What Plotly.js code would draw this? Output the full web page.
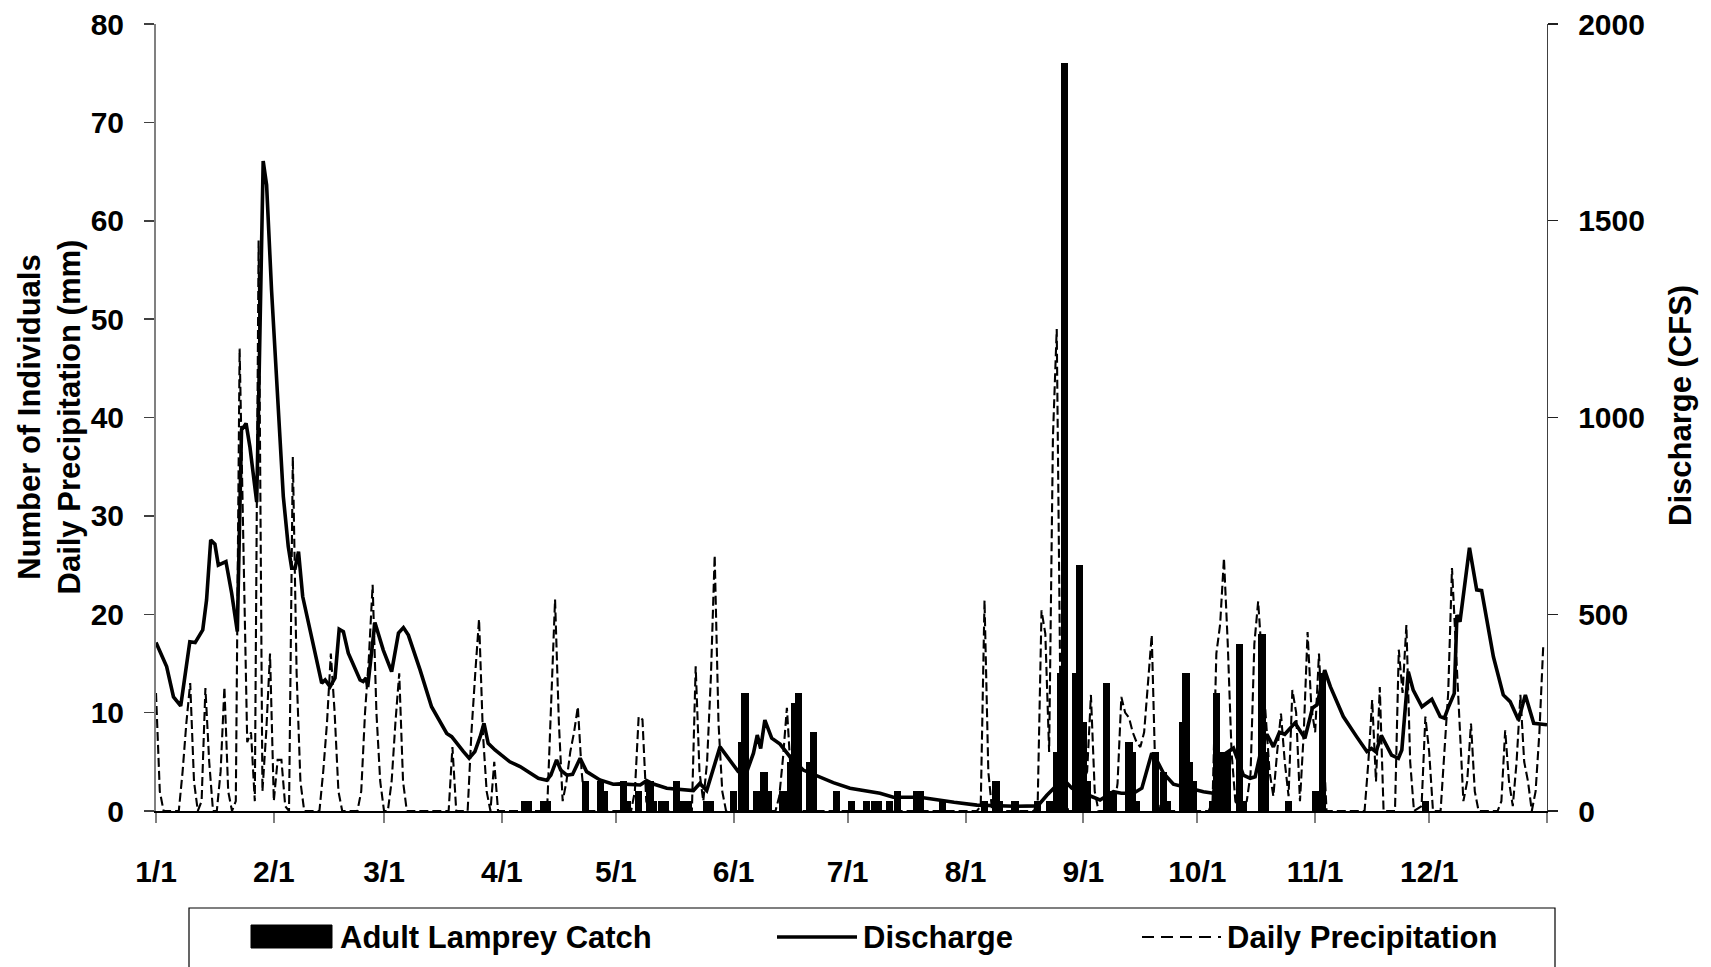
<!DOCTYPE html>
<html>
<head>
<meta charset="utf-8">
<script src="https://cdn.plot.ly/plotly-3.0.1.min.js"></script>
<style>html,body{margin:0;padding:0;background:#fff;}#chart{width:1711px;height:967px;}</style>
</head>
<body>
<div id="chart"></div>
<script>
// ---------- DATA (day offsets from 1 Jan, leap year) ----------
const monthTickDays = [0,31,60,91,121,152,182,213,244,274,305,335,366];
const monthTickLabels = ['1/1','2/1','3/1','4/1','5/1','6/1','7/1','8/1','9/1','10/1','11/1','12/1',''];

// Adult lamprey catch (number of individuals)
const catchDay = [97,98,102,103,113,117,118,123,124,127,130,131,133,134,137,138,139,140,145,146,152,154,155,158,160,161,165,167,168,169,172,173,179,183,187,189,190,193,195,200,201,207,218,221,222,226,232,235,237,238,239,242,243,244,245,250,251,252,256,257,258,263,265,266,270,271,272,273,278,279,281,282,285,286,291,292,298,305,307,334];
const catchCount = [1,1,1,1,3,3,2,3,1,2,3,1,1,1,3,1,1,1,1,1,2,7,12,2,4,2,2,5,11,12,5,8,2,1,1,1,1,1,2,2,2,1,1,3,1,1,1,1,6,14,76,14,25,9,3,13,2,2,7,6,1,6,4,1,9,14,5,3,1,12,6,6,17,1,18,6,1,2,14,1];

// Daily precipitation (mm)
const precipDay = [0,1,2,6,7,8,9,10,11,12,13,14,15,16,17,18,19,20,21,22,23,24,25,26,27,28,29,30,31,32,33,34,35,36,37,38,39,43,44,45,46,47,48,49,53,54,55,56,57,58,59,60,61,62,63,64,65,66,76,77,78,79,82,83,84,85,86,87,88,89,90,102,103,104,105,106,107,108,109,110,111,112,113,125,126,127,128,129,130,140,141,142,143,144,145,146,147,148,149,150,163,164,165,166,167,168,216,217,218,219,220,231,232,233,234,235,236,237,238,239,240,243,244,245,246,247,248,252,253,254,255,256,257,258,259,260,261,262,263,264,277,278,279,280,281,282,283,284,285,287,288,289,290,291,292,293,294,295,296,297,298,299,300,301,302,303,304,305,306,307,308,318,319,320,321,322,323,326,327,328,329,330,331,333,334,335,336,338,339,340,341,342,343,344,345,346,347,348,353,354,355,356,357,358,359,360,361,362,363,364,365];
const precipMm = [12,2,0,0,4,9,13,3,0,1,12.5,5,0,0,4,12.6,2,0,1,47,27,7,8,1,58,2,8,16,1,5.2,5.2,0.5,0,36,14,3,0,0,4,9,16,10,2,0,0,2,10,15.5,23,10,3,0,0,3,9,14,3,0,0,0,6.5,0,0,8,14,19.5,8,2,0,5,0,0,1,12,21.5,9,1,3,6,8,10.6,4,0,0,2,9.6,9.3,1,0,0,0,14.7,4,1,5,13.6,26,9,2,0,0,1.5,5.5,10.5,4,0,0,0.5,21.4,4,0,0,1,20.4,18,6,38,49,10,2,0,0,3,4,11.8,2,0,0,2.8,11.6,10,9.5,8,7,6.5,8,12.6,17.9,3,0,0,1,16,19,25.7,17,6,1,0,1,3.8,17,21.3,15,9.6,4,1.5,6,9.9,5,1.5,12.3,10,1,8,18.2,10.5,8,16,8,0,0,5,11.3,3,12.6,0,0,16.4,12,18.9,5,0,0.5,9.6,6,0,0,6,12,24.7,17,9.6,1,3,8.9,2,0,0,1,8.2,3,0.5,5,11.8,5,3,0,2,8,16.7];

// Discharge (CFS)
const dischargeDay = [0,1.9,2.8,4.6,6.5,8.9,10.3,12.3,13.3,14.4,15.5,16.4,18.4,19.9,21.4,22.5,23.7,24.7,26.5,28.2,29.1,30.4,32.6,33.5,34.8,35.7,36.6,37.5,38.6,40.5,42.3,43.6,44.5,45.8,47.1,48.2,49.3,50.6,53.7,54.5,55.3,55.7,57.6,59.8,62,63.8,65.1,66.4,69.5,72.5,76.5,77.8,80.9,82.4,83.9,85.3,86.3,87.4,89.2,93.1,95.8,98.4,100.6,102.8,103.9,105.4,106.5,108.1,109.6,111.6,113.3,116.8,120.3,122.1,127.4,129.1,130.5,134.4,137.9,141.4,143.1,144.9,148.4,150.2,153.2,155.4,157.2,158.2,159.1,160.2,162,164.2,166.8,170.3,174.7,178.2,182.6,187,190.5,194,201,210,216,226,232,234.4,236,238,239.6,241,244.9,248.4,251.9,254,257.2,259.4,262,263,265.1,267.7,271.2,275.6,278.2,280.5,283.5,285,286.1,287.9,289.2,290.9,292.3,294,295.6,297,299.7,302.3,304.3,305.5,307.5,309,312.4,315.9,318.6,319.8,321,322.4,325.1,326.9,327.8,329.5,330.8,333.1,335.7,337.9,339,340.1,341.6,342.3,343.1,345.6,347.5,348.8,351.9,354.5,356.3,358.5,360.3,362.5,366];
const dischargeCfs = [428,384,367,290,267,430,428,460,536,689,678,625,634,554,456,968,985,926,785,1652,1591,1324,926,799,672,617,617,659,545,460,376,325,333,316,338,462,456,401,333,329,338,315,479,409,354,452,466,447,358,265,197,189,151,134,151,189,223,172,155,125,113,98,83,78,91,130,104,91,93,134,100,79,68,69,66,77,70,58,55,52,70,52,163,138,100,98,147,193,159,231,185,170,138,104,87,72,58,52,45,35,35,22,15,12,13,40,55,75,72,58,42,28,49,45,45,58,147,135,96,68,60,49,45,140,160,120,91,83,87,160,195,163,200,195,224,185,262,270,358,316,240,189,151,159,150,192,142,134,155,354,307,265,284,240,236,265,299,498,481,669,562,560,392,295,278,231,295,223,219];

// ---------- helpers ----------
const DAY_MS = 86400000;
const BASE = Date.UTC(2004, 0, 1);
function dayToDate(d) {
  return new Date(BASE + d * DAY_MS).toISOString().replace('T', ' ').slice(0, 19);
}
// plot-area pixel box (layout)
const L = 156, R = 1547, T = 24, B = 811;
const W = R - L, H = B - T;
const fx = px => (px - L) / W;
const fy = py => (B - py) / H;

const FONT = 'Liberation Sans, Arial, Helvetica, sans-serif';
const tickFont = {family: FONT, size: 30, color: 'black', weight: 'bold'};

const traces = [
  {
    type: 'bar', name: 'Adult Lamprey Catch',
    x: catchDay.map(dayToDate), y: catchCount,
    width: 1.9 * DAY_MS,
    marker: {color: 'black', line: {width: 0}},
    xaxis: 'x', yaxis: 'y', showlegend: false, hoverinfo: 'x+y'
  },
  {
    type: 'scatter', mode: 'lines', name: 'Daily Precipitation',
    x: precipDay.map(dayToDate), y: precipMm,
    line: {color: 'black', width: 2.1, dash: '9px,4px'},
    xaxis: 'x', yaxis: 'y', showlegend: false
  },
  {
    type: 'scatter', mode: 'lines', name: 'Discharge',
    x: dischargeDay.map(dayToDate), y: dischargeCfs,
    line: {color: 'black', width: 3.6},
    xaxis: 'x', yaxis: 'y2', showlegend: false
  }
];

const layout = {
  width: 1711, height: 967,
  margin: {l: L, r: 1711 - R, t: T, b: 967 - B, pad: 0},
  paper_bgcolor: 'white', plot_bgcolor: 'white',
  showlegend: false,
  font: {family: FONT, color: 'black', size: 30},
  bargap: 0,
  xaxis: {
    type: 'date',
    range: [dayToDate(0), dayToDate(366)],
    tickmode: 'array',
    tickvals: monthTickDays.map(dayToDate),
    ticktext: monthTickLabels,
    ticks: 'outside', ticklen: 10, tickwidth: 2, tickcolor: '#808080',
    showline: true, linecolor: 'black', linewidth: 1.5,
    showgrid: false, zeroline: false,
    tickfont: tickFont, ticklabelstandoff: 23,
    fixedrange: true
  },
  yaxis: {
    range: [0, 80], tick0: 0, dtick: 10,
    ticks: 'outside', ticklen: 10, tickwidth: 1.5, tickcolor: '#404040',
    showline: true, linecolor: '#808080', linewidth: 2,
    showgrid: false, zeroline: false,
    tickfont: tickFont, ticklabelstandoff: 14,
    fixedrange: true
  },
  yaxis2: {
    overlaying: 'y', side: 'right', anchor: 'x',
    range: [0, 2000], tick0: 0, dtick: 500,
    ticks: 'outside', ticklen: 10, tickwidth: 1.2, tickcolor: '#202020',
    showline: true, linecolor: '#404040', linewidth: 1.2,
    showgrid: false, zeroline: false,
    tickfont: tickFont, ticklabelstandoff: 14,
    fixedrange: true
  },
  yaxis3: {
    overlaying: 'y', side: 'right', anchor: 'x',
    range: [0, 2000], tick0: 0, dtick: 500,
    ticks: 'inside', ticklen: 10, tickwidth: 1.2, tickcolor: '#202020',
    showticklabels: false, showline: false, showgrid: false, zeroline: false,
    fixedrange: true
  },
  shapes: [
    // legend frame
    {type: 'rect', xref: 'paper', yref: 'paper', x0: fx(189), x1: fx(1555), y0: fy(990), y1: fy(908),
     line: {color: 'black', width: 1.2}, fillcolor: 'white', layer: 'above'},
    // legend symbol: bar
    {type: 'rect', xref: 'paper', yref: 'paper', x0: fx(251), x1: fx(332), y0: fy(948), y1: fy(925),
     line: {color: 'black', width: 1}, fillcolor: 'black', layer: 'above'},
    // legend symbol: discharge
    {type: 'line', xref: 'paper', yref: 'paper', x0: fx(777), x1: fx(857), y0: fy(937), y1: fy(937),
     line: {color: 'black', width: 3.6}, layer: 'above'},
    // legend symbol: precipitation
    {type: 'line', xref: 'paper', yref: 'paper', x0: fx(1142), x1: fx(1221), y0: fy(937), y1: fy(937),
     line: {color: 'black', width: 2, dash: '12px,7px'}, layer: 'above'}
  ],
  annotations: [
    {text: '<b>Number of Individuals<br>Daily Precipitation (mm)</b>', xref: 'paper', yref: 'paper',
     x: fx(48.5), y: fy(417), xanchor: 'center', yanchor: 'middle', textangle: -90, showarrow: false,
     font: {family: FONT, size: 31, color: 'black'}},
    {text: '<b>Discharge (CFS)</b>', xref: 'paper', yref: 'paper',
     x: fx(1680), y: fy(406), xanchor: 'center', yanchor: 'middle', textangle: -90, showarrow: false,
     font: {family: FONT, size: 31, color: 'black'}},
    {text: '<b>Adult Lamprey Catch</b>', xref: 'paper', yref: 'paper',
     x: fx(338), y: fy(937), xanchor: 'left', yanchor: 'middle', showarrow: false,
     font: {family: FONT, size: 31, color: 'black'}},
    {text: '<b>Discharge</b>', xref: 'paper', yref: 'paper',
     x: fx(861), y: fy(937), xanchor: 'left', yanchor: 'middle', showarrow: false,
     font: {family: FONT, size: 31, color: 'black'}},
    {text: '<b>Daily Precipitation</b>', xref: 'paper', yref: 'paper',
     x: fx(1225), y: fy(937), xanchor: 'left', yanchor: 'middle', showarrow: false,
     font: {family: FONT, size: 31, color: 'black'}}
  ]
};

Plotly.newPlot('chart', traces, layout, {displayModeBar: false, staticPlot: true});
</script>
</body>
</html>
